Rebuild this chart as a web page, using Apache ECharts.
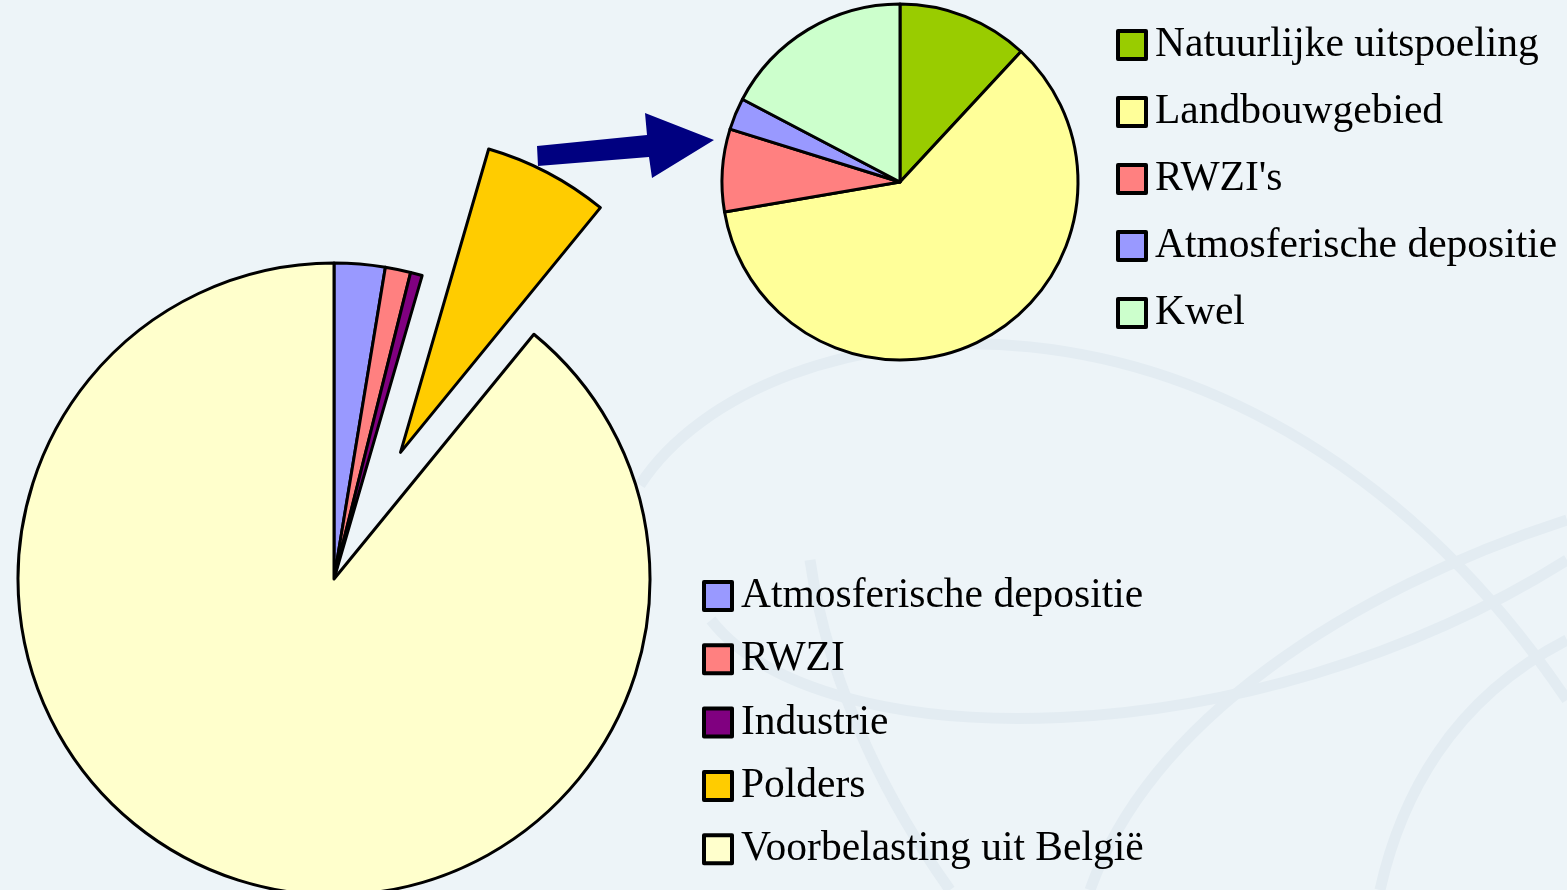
<!DOCTYPE html>
<html>
<head>
<meta charset="utf-8">
<script src="https://cdn.jsdelivr.net/npm/echarts@6/dist/echarts.min.js"></script>
<style>
  html, body { margin: 0; padding: 0; background: #edf4f8; }
  #chart { width: 1567px; height: 890px; }
</style>
</head>
<body>
<div id="chart"></div>
<script>
// kleine taart (uitvergroting van "Polders")
var smallNames = ['Natuurlijke uitspoeling', 'Landbouwgebied', "RWZI's", 'Atmosferische depositie', 'Kwel'];
var smallValues = [11.9, 60.4, 7.5, 2.9, 17.3];
var smallColors = ['#99cc00', '#ffff99', '#ff8080', '#9999ff', '#ccffcc'];

// grote taart
var bigNames = ['Atmosferische depositie', 'RWZI', 'Industrie', 'Polders', 'Voorbelasting uit België'];
var bigValues = [2.6, 1.3, 0.6, 6.4, 89.1];
var bigColors = ['#9999ff', '#ff8080', '#800080', '#ffcc00', '#ffffcc'];

var chart = echarts.init(document.getElementById('chart'));

function toData (names, values, colors, selectedName) {
  return names.map(function (n, i) {
    return {
      name: n,
      value: values[i],
      selected: n === selectedName,
      itemStyle: { color: colors[i] }
    };
  });
}

var legendText = {
  fontFamily: 'Liberation Serif',
  fontSize: 41.5,
  lineHeight: 40,
  color: '#000',
  padding: [0, 0, 0, 4]
};

// achtergrondlijnen (decoratie)
var bgCurves = [
  [640, 485, 760, 300, 1250, 230, 1567, 700],
  [711, 620, 820, 760, 1250, 760, 1567, 560],
  [1567, 520, 1350, 590, 1150, 720, 1090, 890],
  [810, 560, 830, 700, 900, 820, 950, 890],
  [1567, 640, 1450, 700, 1400, 800, 1380, 890]
].map(function (c) {
  return {
    type: 'bezierCurve',
    z: -10,
    silent: true,
    shape: { x1: c[0], y1: c[1], cpx1: c[2], cpy1: c[3], cpx2: c[4], cpy2: c[5], x2: c[6], y2: c[7] },
    style: { stroke: '#e3ecf2', lineWidth: 11, fill: null }
  };
});

var option = {
  backgroundColor: '#edf4f8',
  animation: false,
  graphic: bgCurves.concat([
    {
      // pijl naar de uitvergroting
      type: 'polygon',
      z: 100,
      shape: { points: [[537, 146], [647, 135], [645, 113], [714, 140], [652, 178], [649, 157], [538, 166]] },
      style: { fill: '#000080' }
    }
  ]),
  legend: [
    {
      data: smallNames,
      orient: 'vertical',
      left: 1116,
      top: 24,
      padding: 0,
      itemWidth: 28,
      itemHeight: 28,
      itemGap: 25,
      icon: 'rect',
      selectedMode: false,
      itemStyle: { borderColor: '#000', borderWidth: 4 },
      textStyle: legendText
    },
    {
      data: bigNames,
      orient: 'vertical',
      left: 702,
      top: 575,
      padding: 0,
      itemWidth: 28,
      itemHeight: 28,
      itemGap: 21.3,
      icon: 'rect',
      selectedMode: false,
      itemStyle: { borderColor: '#000', borderWidth: 4 },
      textStyle: legendText
    }
  ],
  series: [
    {
      name: 'Uitvergroting',
      type: 'pie',
      center: [900, 182],
      radius: 178,
      startAngle: 90,
      clockwise: true,
      label: { show: false },
      labelLine: { show: false },
      emphasis: { disabled: true },
      itemStyle: { borderColor: '#000', borderWidth: 3 },
      data: toData(smallNames, smallValues, smallColors, null)
    },
    {
      name: 'Totaal',
      type: 'pie',
      center: [334, 579],
      radius: 316,
      startAngle: 90,
      clockwise: true,
      selectedMode: 'single',
      selectedOffset: 143,
      label: { show: false },
      labelLine: { show: false },
      emphasis: { disabled: true },
      itemStyle: { borderColor: '#000', borderWidth: 3 },
      data: toData(bigNames, bigValues, bigColors, 'Polders')
    }
  ]
};

chart.setOption(option);
</script>
</body>
</html>
